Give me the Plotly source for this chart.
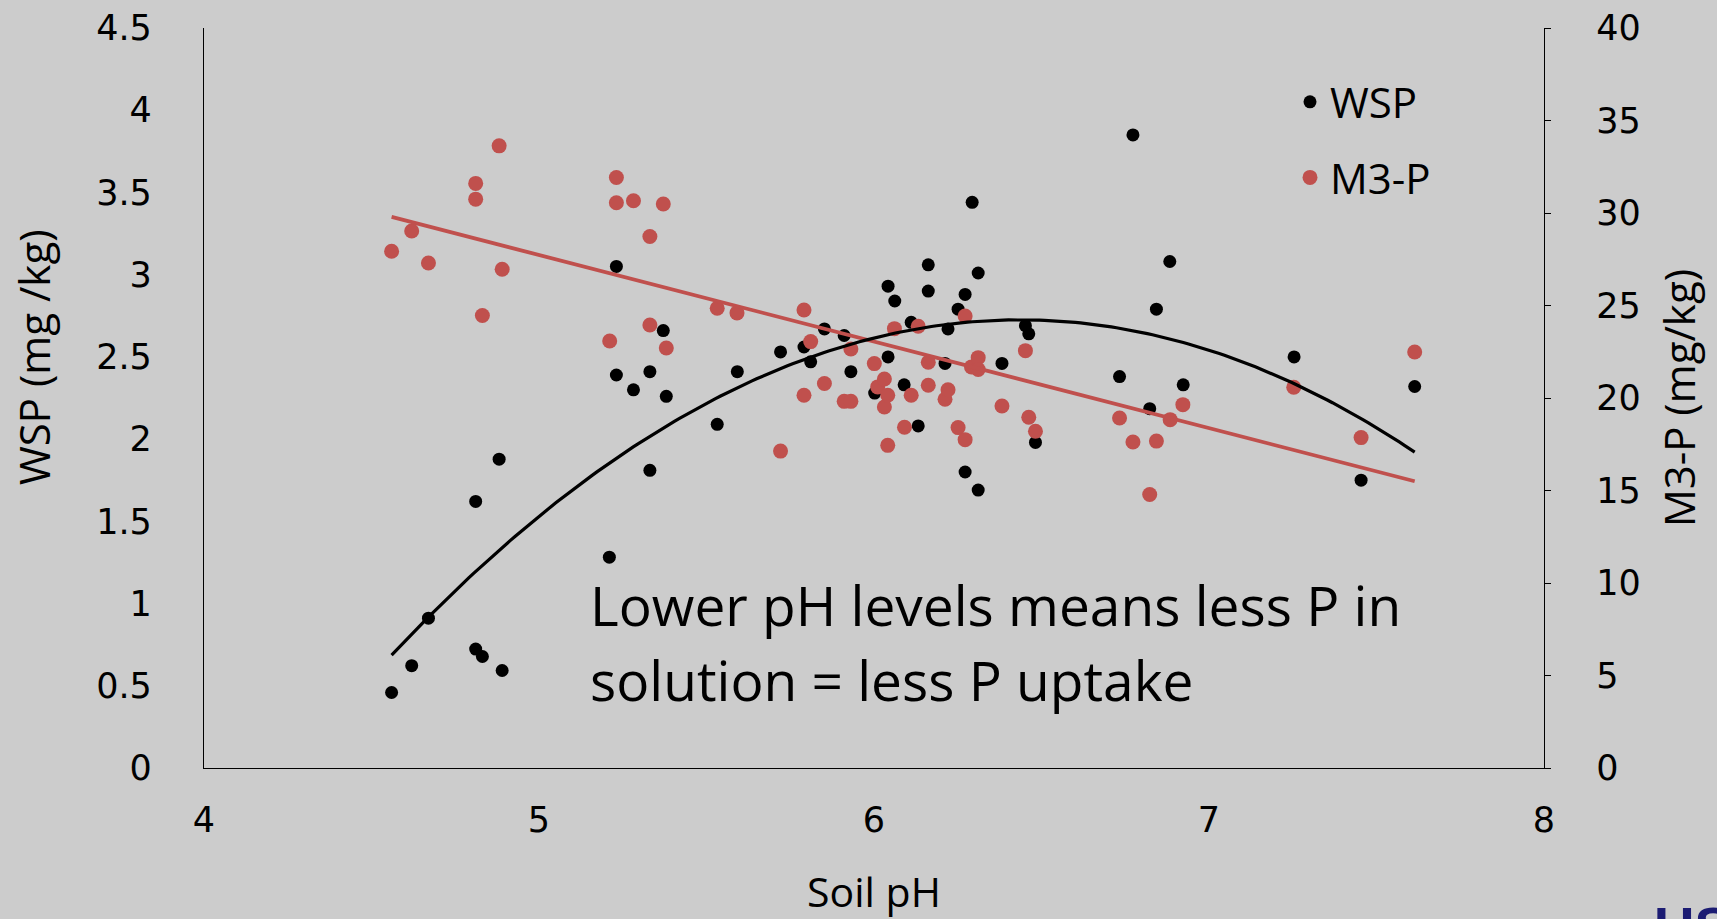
import numpy as np
import plotly.graph_objects as go

# ---- data ----
wsp_ph = [4.56, 4.62, 4.67, 4.811, 4.811, 4.831, 4.881, 4.89,
          5.21, 5.231, 5.231, 5.282, 5.331, 5.331, 5.371, 5.38, 5.532, 5.592,
          5.721, 5.791, 5.811, 5.852, 5.911, 5.931, 6.002, 6.042, 6.042, 6.062,
          6.09, 6.111, 6.132, 6.162, 6.162, 6.212, 6.221, 6.251, 6.272, 6.272,
          6.293, 6.311, 6.311, 6.382, 6.452, 6.462, 6.482, 6.733, 6.773, 6.823,
          6.843, 6.883, 6.923, 7.254, 7.454, 7.614]
wsp = [0.459, 0.622, 0.911, 1.621, 0.723, 0.678, 1.878, 0.593,
       1.282, 3.05, 2.39, 2.30, 2.41, 1.81, 2.66, 2.26, 2.09, 2.41,
       2.53, 2.56, 2.47, 2.67, 2.63, 2.41, 2.28, 2.93, 2.50, 2.84,
       2.33, 2.71, 2.08, 3.06, 2.90, 2.46, 2.67, 2.79, 2.88, 1.80,
       3.44, 3.01, 1.69, 2.46, 2.69, 2.64, 1.98, 2.38, 3.85, 2.185,
       2.79, 3.08, 2.33, 2.50, 1.75, 2.32]

m3p_ph = [4.56, 4.62, 4.67, 4.811, 4.811, 4.831, 4.881, 4.89,
          5.211, 5.231, 5.231, 5.282, 5.331, 5.331, 5.371, 5.38, 5.532, 5.591,
          5.721, 5.791, 5.791, 5.811, 5.852, 5.911, 5.931, 5.931, 6.001, 6.011,
          6.031, 6.031, 6.041, 6.041, 6.061, 6.091, 6.111, 6.132, 6.162, 6.162,
          6.212, 6.221, 6.251, 6.272, 6.272, 6.291, 6.311, 6.311, 6.382, 6.452,
          6.462, 6.482, 6.733, 6.773, 6.823, 6.843, 6.884, 6.922, 7.253, 7.454, 7.614]
m3p = [27.93, 29.03, 27.3, 31.6, 30.75, 24.46, 33.63, 26.96,
       23.08, 31.92, 30.55, 30.66, 28.73, 23.95, 30.49, 22.7, 24.85, 24.6,
       17.13, 24.76, 20.15, 23.05, 20.78, 19.82, 19.82, 22.65, 21.86, 20.6,
       21.03, 19.51, 20.15, 17.44, 23.75, 18.42, 20.15, 23.88, 21.93, 20.69,
       19.93, 20.45, 18.40, 17.75, 24.43, 21.68, 22.18, 21.54, 19.57, 22.56,
       18.96, 18.2, 18.92, 17.62, 14.78, 17.67, 18.83, 19.64, 20.58, 17.86, 22.49]

# linear trendline of M3-P: [slope, intercept]
m3p_trend = [-4.678, 51.12]

x_ticks = [4, 5, 6, 7, 8]
y_ticks = [0, 0.5, 1, 1.5, 2, 2.5, 3, 3.5, 4, 4.5]
y_ticktext = ["0", "0.5", "1", "1.5", "2", "2.5", "3", "3.5", "4", "4.5"]
y2_ticks = [0, 5, 10, 15, 20, 25, 30, 35, 40]

# ---- trendlines ----
c_wsp = np.polyfit(wsp_ph, wsp, 2)          # 2nd-order polynomial fit of WSP
xw = np.linspace(min(wsp_ph), max(wsp_ph), 200)
xm = np.array([min(m3p_ph), max(m3p_ph)])

BG = "#cccccc"
RED = "#C0504D"
TXT = "Open Sans"
NUM = "DejaVu Sans"

fig = go.Figure()
fig.add_trace(go.Scatter(x=wsp_ph, y=wsp, mode="markers", name="WSP",
                         marker=dict(color="black", size=13), legendgroup="a",
                         yaxis="y"))
fig.add_trace(go.Scatter(x=m3p_ph, y=m3p, mode="markers", name="M3-P",
                         marker=dict(color=RED, size=15), legendgroup="b",
                         yaxis="y2"))
fig.add_trace(go.Scatter(x=xm, y=np.polyval(m3p_trend, xm), mode="lines",
                         line=dict(color=RED, width=3.8), showlegend=False,
                         hoverinfo="skip", yaxis="y2"))
fig.add_trace(go.Scatter(x=xw, y=np.polyval(c_wsp, xw), mode="lines",
                         line=dict(color="black", width=3.2), showlegend=False,
                         hoverinfo="skip", yaxis="y3"))

W, H = 1717, 919
L, R, T, B = 204, 173, 28, 151
pw, ph = W - L - R, H - T - B

def px_x(X):
    return (X - L) / pw

def px_y(Y):
    return (H - B - Y) / ph

fig.update_layout(
    width=W, height=H,
    margin=dict(l=L, r=R, t=T, b=B, autoexpand=False),
    paper_bgcolor=BG, plot_bgcolor=BG,
    font=dict(family=TXT, color="black"),
    showlegend=True,
    legend=dict(x=px_x(1290), y=px_y(68), xanchor="left", yanchor="top",
                bgcolor="rgba(0,0,0,0)", font=dict(family=TXT, size=42),
                tracegroupgap=18),
    xaxis=dict(range=[4, 8], tickvals=x_ticks, showgrid=False, zeroline=False,
               showline=True, linecolor="black", linewidth=1.4, ticks="",
               tickfont=dict(family=NUM, size=35), ticklabelstandoff=21,
               title=dict(text="Soil pH", font=dict(family=TXT, size=41), standoff=56)),
    yaxis=dict(range=[0, 4.5], tickvals=y_ticks, ticktext=y_ticktext,
               showgrid=False, zeroline=False, showline=True, linecolor="black",
               linewidth=1.4, ticks="", tickfont=dict(family=NUM, size=35),
               ticklabelstandoff=44),
    yaxis2=dict(range=[0, 40], tickvals=y2_ticks, overlaying="y", side="right",
                showgrid=False, zeroline=False, showline=True, linecolor="black",
                linewidth=1.4, ticks="outside", ticklen=6, tickcolor="black",
                tickfont=dict(family=NUM, size=35), ticklabelstandoff=38,
                title=dict(text="M3-P (mg/kg)", font=dict(family=TXT, size=42), standoff=25)),
    yaxis3=dict(range=[0, 4.5], overlaying="y", visible=False),
    annotations=[
        dict(text="WSP (mg /kg)", textangle=-90, xref="paper", yref="paper",
             x=px_x(33), y=px_y(357), xanchor="center", yanchor="middle",
             showarrow=False, font=dict(family=TXT, size=42)),
        dict(text="Lower pH levels means less P in", xref="paper", yref="paper",
             x=px_x(588), y=px_y(604), xanchor="left", yanchor="middle",
             showarrow=False, font=dict(family=TXT, size=55)),
        dict(text="solution = less P uptake", xref="paper", yref="paper",
             x=px_x(588), y=px_y(679), xanchor="left", yanchor="middle",
             showarrow=False, font=dict(family=TXT, size=55)),
        dict(text="<b>USDA</b>", xref="paper", yref="paper",
             x=px_x(1652), y=px_y(893), xanchor="left", yanchor="top",
             showarrow=False, font=dict(family="Liberation Sans", size=56, color="#1c1c73")),
    ],
)

fig.write_html("out.html")
